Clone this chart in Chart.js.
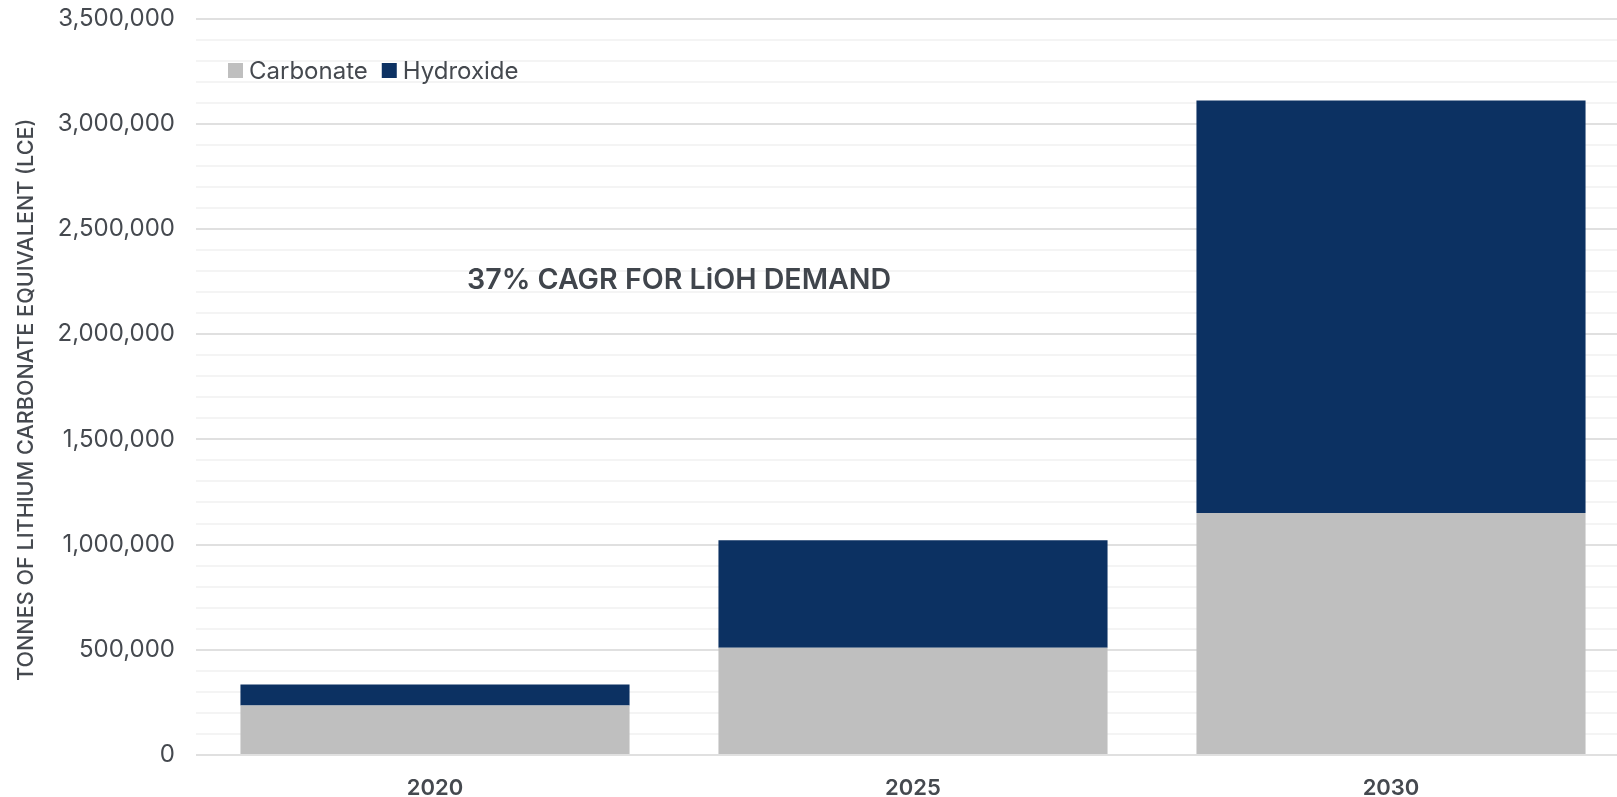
<!DOCTYPE html>
<html>
<head>
<meta charset="utf-8">
<script src="https://cdn.jsdelivr.net/npm/chart.js@4.4.1/dist/chart.umd.min.js"></script>
<style>
  html, body { margin: 0; padding: 0; background: #ffffff; overflow: hidden; }
  #wrap { position: relative; width: 1630px; height: 797px; }
</style>
</head>
<body>
<div id="wrap"><canvas id="chart"></canvas></div>
<script>
// Lithium demand by product, tonnes LCE
const years = ['2020', '2025', '2030'];
const carbonate = [235000, 510000, 1150000];
const hydroxide = [100000, 510000, 1960000];
const seriesNames = ['Carbonate', 'Hydroxide'];
const yAxisTitle = 'TONNES OF LITHIUM CARBONATE EQUIVALENT (LCE)';
const headline = '37% CAGR FOR LiOH DEMAND';
const yMax = 3500000;
const yMinorStep = 100000;
const yMajorStep = 500000;

const FONT = 'Inter, "Noto Sans", sans-serif';
const TEXT = '#45494f';
const COLORS = ['#bfbfbf', '#0c3162'];

// Legend, rotated axis title and headline drawn onto the plot
const overlay = {
  id: 'overlay',
  afterDraw(chart) {
    const { ctx, chartArea } = chart;
    ctx.save();

    // legend in the upper-left of the plot
    ctx.font = '24px ' + FONT;
    ctx.textBaseline = 'middle';
    ctx.textAlign = 'left';
    let x = chartArea.left + 32;
    const cy = chartArea.top + 52;
    chart.data.datasets.forEach((ds) => {
      ctx.fillStyle = ds.backgroundColor;
      ctx.fillRect(x, cy - 7.5, 15, 15);
      x += 21;
      ctx.fillStyle = TEXT;
      ctx.fillText(ds.label, x, cy + 1);
      x += ctx.measureText(ds.label).width + 14;
    });

    // headline
    ctx.font = '600 28.6px ' + FONT;
    ctx.fillStyle = '#40454c';
    ctx.fillText(headline, chartArea.left + 271, chartArea.top + 262);

    // y axis title
    ctx.translate(25.5, (chartArea.top + chartArea.bottom) / 2 + 13);
    ctx.rotate(-Math.PI / 2);
    ctx.textAlign = 'center';
    ctx.font = '500 21.6px ' + FONT;
    ctx.fillStyle = TEXT;
    ctx.fillText(yAxisTitle, 0, 1);
    ctx.restore();
  }
};

new Chart(document.getElementById('chart'), {
  type: 'bar',
  data: {
    labels: years,
    datasets: [
      { label: seriesNames[0], data: carbonate, backgroundColor: COLORS[0] },
      { label: seriesNames[1], data: hydroxide, backgroundColor: COLORS[1] }
    ]
  },
  options: {
    responsive: true,
    maintainAspectRatio: false,
    animation: false,
    layout: { padding: 0 },
    datasets: { bar: { categoryPercentage: 1, barPercentage: 0.814, borderWidth: 0 } },
    plugins: { legend: { display: false }, tooltip: { enabled: false } },
    scales: {
      x: {
        stacked: true,
        grid: { display: false },
        border: { display: false },
        ticks: { color: TEXT, font: { family: FONT, size: 22, weight: '600' }, padding: 12 },
        afterFit(scale) { scale.height = 42; }
      },
      y: {
        stacked: true,
        min: 0,
        max: yMax,
        border: { display: false },
        grid: {
          drawTicks: false,
          color: (c) => (c.tick && c.tick.value % yMajorStep === 0) ? '#e0e0e0' : '#f4f4f4',
          lineWidth: 2
        },
        ticks: {
          stepSize: yMinorStep,
          autoSkip: false,
          padding: 21,
          color: TEXT,
          font: { family: FONT, size: 24 },
          callback: (v) => (v % yMajorStep === 0) ? Number(v).toLocaleString('en-US') : ''
        },
        afterFit(scale) {
          scale.width = 196;
          scale.paddingTop = 18.5;
        }
      }
    }
  },
  plugins: [overlay]
});
</script>
</body>
</html>
